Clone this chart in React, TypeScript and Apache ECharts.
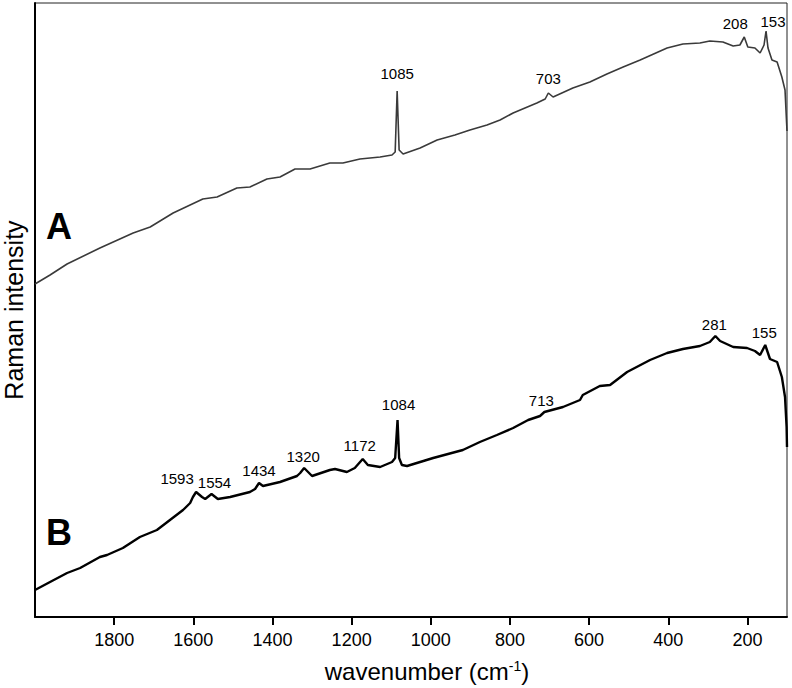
import React, { useEffect, useRef } from "react";
import * as echarts from "echarts";

// Spectrum A (wavenumber in cm-1, Raman intensity in arbitrary units)
const wavenumberA = [2000,1962,1919,1836,1752,1709,1651,1576,1540,1490,1457,1414,1381,1343,1305,1255,1222,1179,1128,1098,1090,1085,1080,1070,1027,984,939,901,858,825,792,732,711,703,691,641,598,555,514,471,403,363,320,295,262,236,219,208,199,181,168,158,153,148,138,125,113,105,101,100];
const intensityA = [333,342,353,369,384,390,404,418,420,429,430,438,440,448,448,454,454,458,460,462,465,526,467,463,469,477,482,487,492,497,504,514,518,524,520,529,535,543,550,557,569,573,574,576,575,571,572,580,570,569,564,572,586,569,557,555,540,527,494,486];

// Spectrum B
const wavenumberB = [2000,1962,1919,1886,1836,1818,1778,1735,1692,1659,1626,1608,1601,1593,1578,1570,1554,1538,1507,1457,1444,1434,1424,1381,1338,1330,1320,1300,1255,1242,1212,1192,1172,1159,1128,1098,1090,1084,1080,1073,1060,1027,994,919,876,833,792,754,724,713,666,623,616,573,547,504,446,403,363,320,295,281,269,236,201,181,168,155,143,125,113,105,101,100];
const intensityB = [27,35,44,49,60,62,69,80,87,97,107,114,120,125,120,118,123,118,120,125,128,134,131,135,141,144,149,141,147,148,145,149,158,152,150,155,159,197,159,152,151,155,159,167,175,182,189,197,201,205,210,217,222,231,232,245,257,264,268,271,275,281,276,270,269,266,262,272,258,255,240,220,190,170];

// Peak annotations
const peaksA = [1085, 703, 208, 153];
const peaksB = [1593, 1554, 1434, 1320, 1172, 1084, 713, 281, 155];

// Axis tick labels
const xTicks = [1800, 1600, 1400, 1200, 1000, 800, 600, 400, 200];

// Label placement (pixels, relative to the peak top)
const labelOffsetA = [[0, -18], [0, -15], [-9, -14], [7, -10]];
const labelOffsetB = [[-19, -14], [3, -12], [0, -13], [-1, -12], [-3, -14], [1, -16], [-3, -12], [-1, -12], [-1, -13]];

const FONT = "Liberation Sans, Arial, sans-serif";

function pairs(xs: number[], ys: number[]) {
  return xs.map((x, i) => [x, ys[i]]);
}

function peakMarks(peaks: number[], xs: number[], ys: number[], offs: number[][]) {
  return peaks.map((p, i) => ({
    coord: [p, ys[xs.indexOf(p)]],
    value: p,
    label: { offset: offs[i] },
  }));
}

export default function App() {
  const ref = useRef<HTMLDivElement>(null);
  useEffect(() => {
    if (!ref.current) return;
    const chart = echarts.init(ref.current, undefined, { renderer: "svg" });
    const markLabel = {
      show: true,
      position: "inside",
      color: "#000",
      fontSize: 15,
      fontFamily: FONT,
      formatter: "{c}",
    };
    chart.setOption({
      animation: false,
      backgroundColor: "#fff",
      grid: {
        left: 35,
        right: 5,
        top: 3,
        bottom: 71,
        containLabel: false,
        outerBoundsMode: "none",
        show: true,
        borderColor: "#222",
        borderWidth: 1,
      },
      xAxis: {
        type: "value",
        inverse: true,
        min: 100,
        max: 2000,
        position: "bottom",
        splitLine: { show: false },
        axisLine: { show: true, onZero: false, lineStyle: { color: "#000", width: 2 } },
        axisTick: {
          show: true,
          length: 8,
          inside: false,
          customValues: xTicks,
          lineStyle: { color: "#000", width: 2 },
        },
        axisLabel: {
          show: true,
          customValues: xTicks,
          margin: 14,
          color: "#000",
          fontSize: 18,
          fontFamily: FONT,
          formatter: (v: number) => String(v),
        },
        name: "{a|wavenumber (cm}{s|-1}{a|)}",
        nameLocation: "middle",
        nameGap: 42,
        nameTextStyle: {
          padding: [0, 0, 0, 32],
          rich: {
            a: { fontSize: 24, fontFamily: FONT, color: "#000" },
            s: { fontSize: 14, fontFamily: FONT, color: "#000", verticalAlign: "top" },
          },
        },
      },
      yAxis: {
        type: "value",
        min: 0,
        max: 614,
        position: "left",
        splitLine: { show: false },
        axisLine: { show: true, onZero: false, lineStyle: { color: "#000", width: 2 } },
        axisTick: { show: false },
        axisLabel: { show: false },
        name: "Raman intensity",
        nameLocation: "middle",
        nameRotate: 90,
        nameGap: 9,
        nameTextStyle: { fontSize: 25, fontFamily: FONT, color: "#000" },
      },
      graphic: [
        {
          type: "text",
          x: 59,
          y: 226,
          style: {
            text: "A",
            fontSize: 36,
            fontWeight: "bold",
            fontFamily: FONT,
            fill: "#000",
            align: "center",
            verticalAlign: "middle",
          },
        },
        {
          type: "text",
          x: 59,
          y: 532,
          style: {
            text: "B",
            fontSize: 36,
            fontWeight: "bold",
            fontFamily: FONT,
            fill: "#000",
            align: "center",
            verticalAlign: "middle",
          },
        },
      ],
      series: [
        {
          name: "A",
          type: "line",
          data: pairs(wavenumberA, intensityA),
          showSymbol: false,
          lineStyle: { color: "#3a3a3a", width: 1.6 },
          markPoint: {
            symbol: "circle",
            symbolSize: 0,
            label: markLabel,
            data: peakMarks(peaksA, wavenumberA, intensityA, labelOffsetA),
          },
        },
        {
          name: "B",
          type: "line",
          data: pairs(wavenumberB, intensityB),
          showSymbol: false,
          lineStyle: { color: "#000", width: 2.4 },
          markPoint: {
            symbol: "circle",
            symbolSize: 0,
            label: markLabel,
            data: peakMarks(peaksB, wavenumberB, intensityB, labelOffsetB),
          },
        },
      ],
    });
    return () => chart.dispose();
  }, []);
  return (
    <div
      ref={ref}
      style={{ position: "fixed", left: 0, top: 0, width: 792, height: 688, background: "#fff" }}
    />
  );
}
